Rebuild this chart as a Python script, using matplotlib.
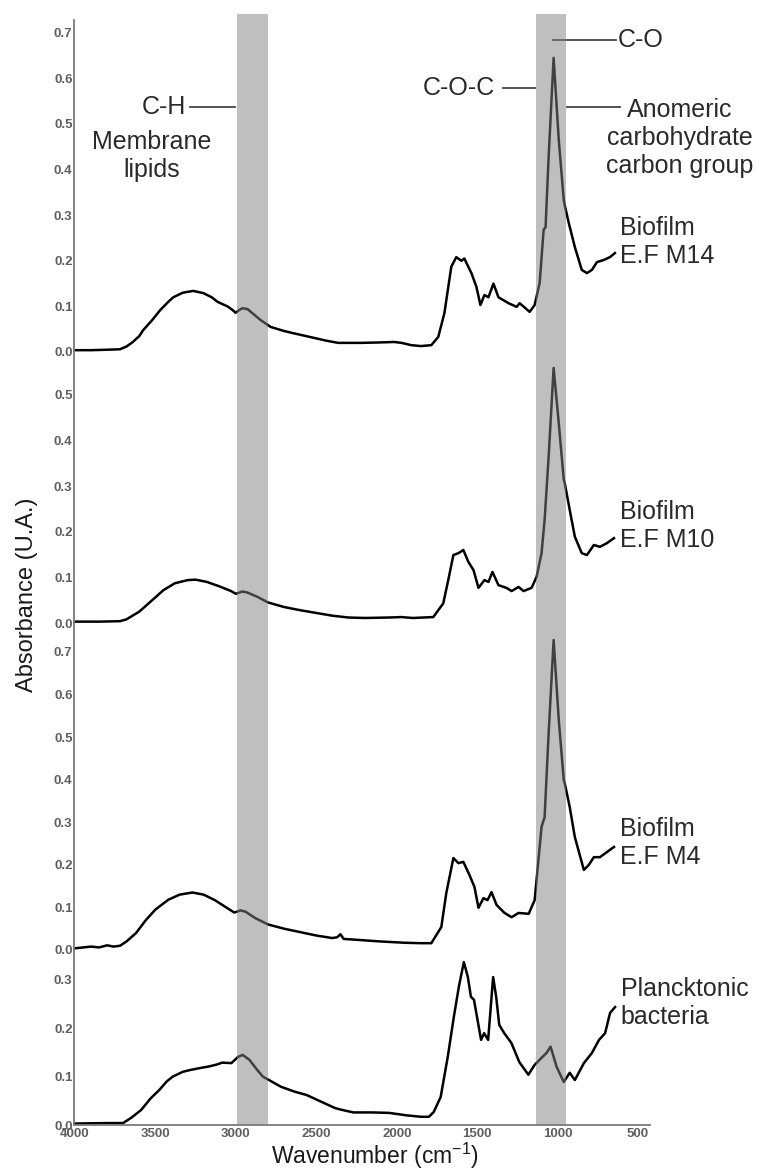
import numpy as np
import matplotlib
matplotlib.use("Agg")
import matplotlib.pyplot as plt
from matplotlib.lines import Line2D
from matplotlib.patches import Rectangle
from matplotlib.transforms import blended_transform_factory

plt.rcParams['font.family'] = ['Liberation Sans', 'DejaVu Sans']

# spectra (wavenumber in cm-1, absorbance)
wn_m14 = [4000, 3900, 3800, 3720, 3680, 3640, 3600, 3576, 3520, 3470, 3420, 3389, 3330, 3264,
          3201, 3150, 3114, 3052, 3020, 3002, 2975, 2958, 2927, 2880, 2846, 2784, 2700, 2640,
          2515, 2440, 2365, 2300, 2222, 2100, 2016, 1970, 1910, 1850, 1785, 1742, 1704, 1661,
          1630, 1598, 1580, 1536, 1505, 1480, 1455, 1430, 1399, 1368, 1305, 1255, 1236, 1174,
          1143, 1112, 1087, 1075, 1056, 1025, 993, 962, 956, 931, 893, 850, 818, 787, 756,
          712, 675, 644]
abs_m14 = [0.004, 0.004, 0.005, 0.006, 0.012, 0.022, 0.035, 0.048, 0.07, 0.092, 0.11, 0.12,
           0.13, 0.134, 0.129, 0.12, 0.11, 0.10, 0.092, 0.086, 0.093, 0.096, 0.094, 0.08, 0.07,
           0.055, 0.046, 0.041, 0.031, 0.025, 0.02, 0.02, 0.02, 0.021, 0.022, 0.02, 0.015,
           0.013, 0.015, 0.033, 0.085, 0.187, 0.208, 0.20, 0.205, 0.173, 0.143, 0.103, 0.125,
           0.12, 0.15, 0.12, 0.107, 0.099, 0.107, 0.088, 0.103, 0.151, 0.268, 0.274, 0.428,
           0.645, 0.465, 0.333, 0.322, 0.283, 0.23, 0.18, 0.173, 0.18, 0.197, 0.202, 0.208,
           0.217]

wn_m10 = [4000, 3850, 3720, 3680, 3600, 3520, 3450, 3380, 3300, 3250, 3180, 3100, 3030, 3000,
          2960, 2930, 2870, 2800, 2700, 2600, 2500, 2400, 2300, 2200, 2050, 1972, 1900, 1773,
          1711, 1680, 1648, 1617, 1586, 1555, 1523, 1492, 1455, 1430, 1405, 1368, 1318, 1286,
          1243, 1212, 1162, 1131, 1100, 1081, 1056, 1025, 993, 962, 956, 925, 893, 850, 818,
          775, 737, 694, 650]
abs_m10 = [0.003, 0.003, 0.004, 0.008, 0.025, 0.05, 0.072, 0.087, 0.094, 0.095, 0.09, 0.08,
           0.07, 0.064, 0.069, 0.067, 0.058, 0.045, 0.035, 0.028, 0.022, 0.016, 0.012, 0.011,
           0.012, 0.013, 0.011, 0.013, 0.043, 0.094, 0.149, 0.153, 0.16, 0.134, 0.116, 0.077,
           0.094, 0.09, 0.112, 0.083, 0.077, 0.07, 0.079, 0.07, 0.077, 0.101, 0.153, 0.226,
           0.364, 0.559, 0.438, 0.314, 0.307, 0.248, 0.189, 0.153, 0.149, 0.171, 0.167, 0.175,
           0.186]

wn_m4 = [4000, 3950, 3900, 3850, 3800, 3760, 3720, 3680, 3620, 3560, 3500, 3420, 3350, 3270,
         3200, 3130, 3060, 3010, 2970, 2940, 2880, 2800, 2700, 2600, 2500, 2400, 2370, 2350,
         2330, 2250, 2100, 1950, 1850, 1785, 1723, 1692, 1648, 1617, 1586, 1548, 1517, 1492,
         1461, 1436, 1411, 1380, 1330, 1286, 1243, 1180, 1143, 1100, 1081, 1056, 1025, 993,
         962, 956, 925, 893, 837, 806, 775, 737, 694, 650]
abs_m4 = [0.004, 0.006, 0.008, 0.006, 0.011, 0.008, 0.01, 0.02, 0.04, 0.07, 0.095, 0.118,
          0.13, 0.135, 0.13, 0.117, 0.1, 0.088, 0.093, 0.09, 0.075, 0.06, 0.05, 0.042, 0.034,
          0.028, 0.03, 0.037, 0.026, 0.024, 0.02, 0.017, 0.016, 0.016, 0.054, 0.134, 0.216,
          0.204, 0.207, 0.176, 0.148, 0.099, 0.122, 0.117, 0.136, 0.106, 0.087, 0.077, 0.087,
          0.085, 0.117, 0.289, 0.312, 0.509, 0.728, 0.54, 0.399, 0.392, 0.336, 0.265, 0.188,
          0.2, 0.218, 0.218, 0.23, 0.242]

wn_plank = [4000, 3800, 3701, 3650, 3589, 3530, 3477, 3430, 3393, 3330, 3281, 3220, 3168,
            3120, 3084, 3028, 2986, 2958, 2916, 2870, 2832, 2719, 2635, 2560, 2495, 2383,
            2350, 2270, 2150, 2046, 1940, 1850, 1800, 1770, 1727, 1683, 1645, 1614, 1583,
            1558, 1539, 1520, 1476, 1457, 1432, 1401, 1382, 1363, 1332, 1288, 1238, 1182,
            1144, 1100, 1069, 1044, 1006, 962, 925, 893, 837, 787, 743, 705, 674, 643]
abs_plank = [0.003, 0.004, 0.004, 0.015, 0.031, 0.055, 0.072, 0.09, 0.1, 0.11, 0.114, 0.118,
             0.121, 0.125, 0.129, 0.128, 0.141, 0.145, 0.135, 0.115, 0.1, 0.079, 0.069, 0.062,
             0.052, 0.035, 0.032, 0.026, 0.026, 0.025, 0.02, 0.017, 0.017, 0.027, 0.058, 0.141,
             0.224, 0.286, 0.337, 0.306, 0.265, 0.259, 0.176, 0.19, 0.176, 0.306, 0.265, 0.207,
             0.19, 0.17, 0.13, 0.104, 0.124, 0.139, 0.149, 0.162, 0.12, 0.089, 0.108, 0.093,
             0.128, 0.149, 0.176, 0.19, 0.232, 0.244]

sample_labels = ["Biofilm\nE.F M14", "Biofilm\nE.F M10", "Biofilm\nE.F M4",
                 "Plancktonic\nbacteria"]
y_maxes = [0.728, 0.594, 0.768, 0.362]
y_ticks = [[0, 0.1, 0.2, 0.3, 0.4, 0.5, 0.6, 0.7],
           [0, 0.1, 0.2, 0.3, 0.4, 0.5],
           [0, 0.1, 0.2, 0.3, 0.4, 0.5, 0.6, 0.7],
           [0, 0.1, 0.2, 0.3]]
x_ticks = [4000, 3500, 3000, 2500, 2000, 1500, 1000, 500]
bands = [(2995, 2800), (1135, 945)]

W, H = 763, 1176
fig = plt.figure(figsize=(W / 100, H / 100), dpi=100)


def fx(px):
    return px / W


def fy(py):
    return 1 - py / H


# panel edges in pixels (top, bottom)
edges = [(20, 352), (352, 623), (623, 950), (950, 1125)]
x_left, x_right = 74, 650
spectra = [(wn_m14, abs_m14), (wn_m10, abs_m10), (wn_m4, abs_m4), (wn_plank, abs_plank)]
label_dy = [8, 9, 3, 3]

tick_col = "#5f5f5f"
axes = []
for i, ((top, bot), (wn, ab)) in enumerate(zip(edges, spectra)):
    ax = fig.add_axes([fx(x_left), fy(bot), fx(x_right) - fx(x_left), (bot - top) / H])
    ax.plot(wn, ab, color="black", lw=1.8, clip_on=False, solid_joinstyle="round")
    ax.set_xlim(4006, 426)
    ax.set_ylim(0, y_maxes[i])
    ax.patch.set_alpha(0)
    for s in ["top", "right", "bottom"]:
        ax.spines[s].set_visible(False)
    ax.spines["left"].set_color("#7a7a7a")
    ax.spines["left"].set_linewidth(1.3)
    ax.set_yticks(y_ticks[i])
    ax.set_yticklabels(["%.1f" % t for t in y_ticks[i]], fontsize=9.5,
                       fontweight="bold", color=tick_col)
    ax.tick_params(axis="y", length=0, pad=1)
    if i < 3:
        ax.set_xticks([])
    else:
        ax.spines["bottom"].set_visible(True)
        ax.spines["bottom"].set_color("#7a7a7a")
        ax.spines["bottom"].set_linewidth(1.3)
        ax.set_xticks(x_ticks)
        ax.set_xticklabels([str(t) for t in x_ticks], fontsize=9.5,
                           fontweight="bold", color=tick_col)
        ax.tick_params(axis="x", length=0, pad=2)
    ax.annotate(sample_labels[i], xy=(wn[-1], ab[-1]), xytext=(4, label_dy[i]),
                textcoords="offset points", ha="left", va="center",
                fontsize=18, color="#2a2a2a", annotation_clip=False)
    axes.append(ax)

# shaded bands across all panels
trans = blended_transform_factory(axes[-1].transData, fig.transFigure)
for hi, lo in bands:
    fig.add_artist(Rectangle((hi, fy(1125)), lo - hi, fy(14) - fy(1125),
                             transform=trans, facecolor="#808080", alpha=0.5,
                             edgecolor="none", zorder=5))


def connector(x0, x1, y):
    fig.add_artist(Line2D([fx(x0), fx(x1)], [fy(y), fy(y)], color="#444444", lw=1.3,
                          transform=fig.transFigure))


txt = dict(fontsize=18, color="#2a2a2a")
fig.text(fx(186), fy(107), "C-H", ha="right", va="center", **txt)
connector(190, 235, 107)
fig.text(fx(152), fy(156), "Membrane\nlipids", ha="center", va="center",
         multialignment="center", **txt)
fig.text(fx(495), fy(88), "C-O-C", ha="right", va="center", **txt)
connector(503, 535, 88)
connector(553, 616, 40)
fig.text(fx(618), fy(40), "C-O", ha="left", va="center", **txt)
connector(567, 620, 107)
fig.text(fx(680), fy(138), "Anomeric\ncarbohydrate\ncarbon group", ha="center",
         va="center", multialignment="center", **txt)

fig.text(fx(27), fy(595), "Absorbance (U.A.)", rotation=90, ha="center", va="center",
         fontsize=17, color="#1a1a1a")
fig.text(fx(375), fy(1156), "Wavenumber (cm$^{\\mathregular{-1}}$)", ha="center",
         va="center", fontsize=16.5, color="#1a1a1a")

fig.savefig("out.png", dpi=100)
